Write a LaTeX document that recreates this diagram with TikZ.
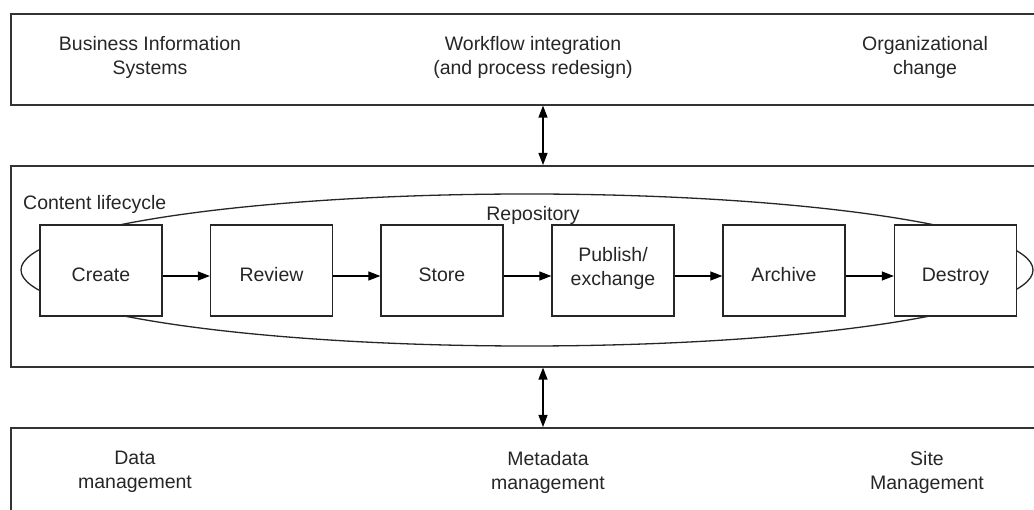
\documentclass[tikz,border=0pt]{standalone}
\usepackage{fontspec}
\setmainfont{Liberation Sans}
\usetikzlibrary{arrows.meta,shapes.geometric}
\begin{document}
\begin{tikzpicture}[x=1pt,y=-1pt,
  outer/.style={draw=black!80, line width=1.6pt, minimum width=1040pt, anchor=north west, inner sep=0pt},
  stagebox/.style={draw=black!85, line width=1.3pt, fill=white, minimum width=122pt, minimum height=91pt, inner sep=0pt},
  lbl/.style={font=\fontsize{19.5}{24}\selectfont, align=center, text=black!85, inner sep=0pt},
  flow/.style={line width=1.2pt, -{Triangle[length=12pt,width=9pt]}},
  twoway/.style={line width=1.2pt, {Triangle[length=12pt,width=9pt]}-{Triangle[length=12pt,width=9pt]}},
]
\useasboundingbox (0,0) rectangle (1034,510);
\clip (0,0) rectangle (1034,510);

% outer boxes
\node[outer, minimum height=91pt] (topbox) at (10,13) {};
\node[outer, minimum height=201pt] (midbox) at (10,165) {};
\node[outer, minimum height=100pt] (botbox) at (10,427) {};

% repository ellipse
\node[draw=black!85, line width=1.3pt, ellipse, inner sep=0pt, minimum width=1012pt, minimum height=152pt] (repo) at (527,270) {};

% stages
\node[stagebox] (create)  at (101,270.5) {};
\node[stagebox] (review)  at (271.5,270.5) {};
\node[stagebox] (store)   at (442,270.5) {};
\node[stagebox] (publish) at (613,270.5) {};
\node[stagebox] (archive) at (784,270.5) {};
\node[stagebox] (destroy) at (955.5,270.5) {};

\node[lbl, anchor=base] (createT)  at ([yshift=-11.5pt]create.center) {Create};
\node[lbl, anchor=base] (reviewT)  at ([yshift=-11.5pt]review.center) {Review};
\node[lbl, anchor=base] (storeT)   at ([yshift=-11.5pt]store.center) {Store};
\node[lbl] (publishT) at ([yshift=2pt]publish.center) {Publish/\\exchange};
\node[lbl, anchor=base] (archiveT) at ([yshift=-11.5pt]archive.center) {Archive};
\node[lbl, anchor=base] (destroyT) at ([yshift=-11.5pt]destroy.center) {Destroy};

\draw[flow] ([yshift=-5.5pt]create.east)  -- ([yshift=-5.5pt]review.west);
\draw[flow] ([yshift=-5.5pt]review.east)  -- ([yshift=-5.5pt]store.west);
\draw[flow] ([yshift=-5.5pt]store.east)   -- ([yshift=-5.5pt]publish.west);
\draw[flow] ([yshift=-5.5pt]publish.east) -- ([yshift=-5.5pt]archive.west);
\draw[flow] ([yshift=-5.5pt]archive.east) -- ([yshift=-5.5pt]destroy.west);

% labels
\node[lbl, anchor=base west] (lifecycle) at (23,210) {Content lifecycle};
\node[lbl, anchor=base] (repoT) at (533,221) {Repository};

\node[lbl] (bis) at (150,57) {Business Information\\Systems};
\node[lbl] (wfi) at (533,57) {Workflow integration\\(and process redesign)};
\node[lbl] (org) at (925,57) {Organizational\\change};

\node[lbl] (dm)  at (135,472) {Data\\management};
\node[lbl] (mdm) at (548,472) {Metadata\\management};
\node[lbl] (sm)  at (927,472) {Site\\Management};

% vertical connectors
\coordinate (ax) at (543,0);
\draw[twoway] (topbox.south -| ax) -- (midbox.north -| ax);
\draw[twoway] (midbox.south -| ax) -- (botbox.north -| ax);
\end{tikzpicture}
\end{document}
